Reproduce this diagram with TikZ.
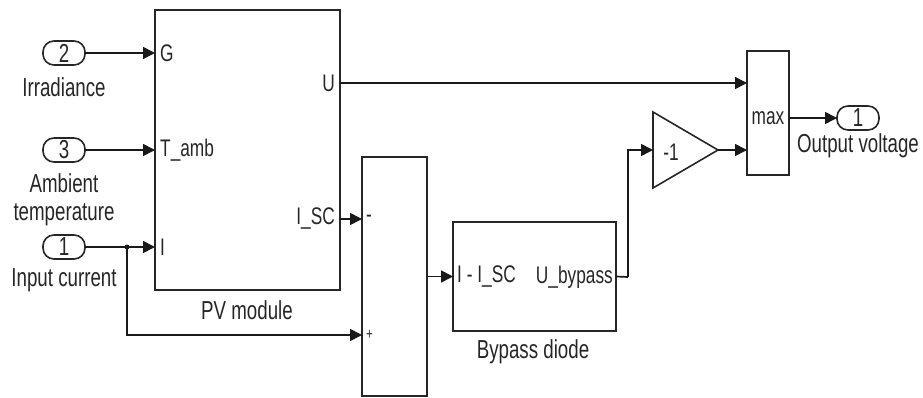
\documentclass[tikz,border=0pt]{standalone}
\usepackage{fontspec}
\setmainfont{Liberation Sans}[FakeStretch=0.72]
\usetikzlibrary{arrows.meta}
\begin{document}
\begin{tikzpicture}[x=1pt,y=-1pt,
  every node/.style={font=\fontsize{26}{28}\selectfont, text=black!85, inner sep=0pt},
  plab/.style={font=\fontsize{24}{26}\selectfont},
  blk/.style={draw=black!85, line width=1.6pt, inner sep=0pt, outer sep=0pt},
  port/.style={draw=black!85, line width=1.6pt, rounded corners=11pt, minimum width=42pt, minimum height=24pt, inner sep=0pt, outer sep=0pt},
  wire/.style={draw=black!90, line width=1.7pt},
  arr/.style={wire, -{Triangle[length=12pt,width=12pt]}}
]
\useasboundingbox (0,0) rectangle (923,398);
% blocks
\node[blk, minimum width=185pt, minimum height=280pt] (pv) at (247.5,150) {};
\node[blk, minimum width=65pt, minimum height=239pt] (sum) at (394.5,276.5) {};
\node[blk, minimum width=163pt, minimum height=109pt] (byp) at (534.5,276.5) {};
\node[blk, minimum width=42pt, minimum height=124pt] (mx) at (768,113) {};
\draw[blk] (653,112) -- (718,150) -- (653,188) -- cycle;
\coordinate (gin) at (653,150);
\coordinate (gout) at (718,150);
\node[plab] (gl) at (671,152) {-1};
% ports
\node[port] (p2) at (64,53) {2};
\node[port] (p3) at (64,150) {3};
\node[port] (p1) at (64,247) {1};
\node[port] (po) at (858,118) {1};
% port labels
\node (l2) at (64,87) {Irradiance};
\node (l3a) at (64,183) {Ambient};
\node (l3b) at (64,215) {temperature};
\node (l1) at (64,280) {Input current};
\node (lpv) at (247,310) {PV module};
\node (lbyp) at (533,352) {Bypass diode};
\node (lo) at (858,146) {Output voltage};
% block port texts
\node[plab,anchor=west] (tG) at (160,53) {G};
\node[plab,anchor=west] (tT) at (160,150) {T\_amb};
\node[plab,anchor=west] (tI) at (160,247) {I};
\node[plab,anchor=east] (tU) at (335,83) {U};
\node[plab,anchor=east] (tISC) at (335,219) {I\_SC};
\node[plab,anchor=west] (tm) at (366,219) {-};
\node[anchor=west,font=\fontsize{16}{18}\selectfont] (tp) at (366,335) {+};
\node[plab,anchor=west] (tbi) at (457,277) {I - I\_SC};
\node[plab,anchor=east] (tbo) at (613,277) {U\_bypass};
\node[plab] (tmax) at (768,118) {max};
% coordinates
\coordinate (br) at (127,247);
\coordinate (bu) at (628,277);
% wires
\draw[arr] (p2.east) -- (p2.east -| pv.west);
\draw[arr] (p3.east) -- (p3.east -| pv.west);
\draw[arr] (p1.east) -- (p1.east -| pv.west);
\fill[black!90] (br) circle (2.5pt);
\draw[arr] (br) -- (127,335) -- (127,335 -| sum.west);
\draw[arr] (pv.east |- tU) -- (mx.west |- tU);
\draw[arr] (pv.east |- tISC) -- (sum.west |- tISC);
\draw[arr] (sum.east |- byp.west) -- (byp.west);
\draw[wire] (byp.east) -- (bu);
\draw[arr] (bu) -- (bu |- gin) -- (gin);
\draw[arr] (gout) -- (mx.west |- gout);
\draw[arr] (mx.east |- po) -- (po.west);
\end{tikzpicture}
\end{document}
